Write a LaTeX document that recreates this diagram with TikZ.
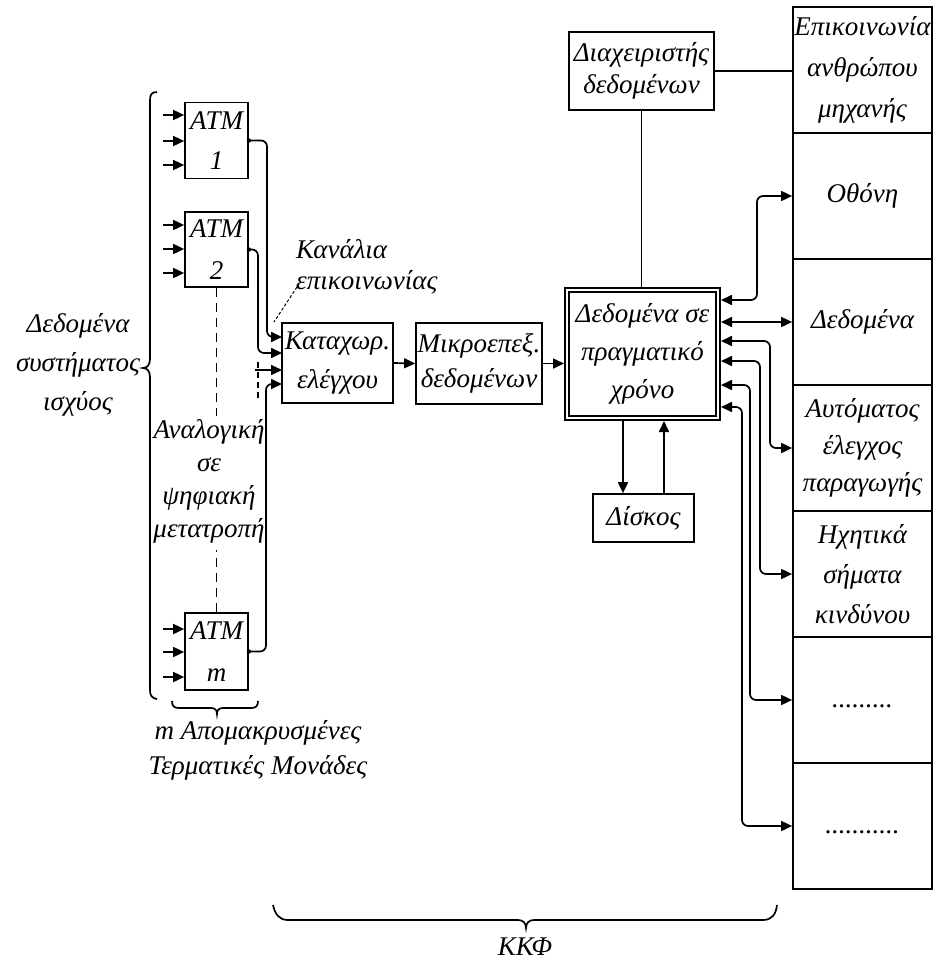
\documentclass[tikz,border=0pt]{standalone}
\usepackage{fontspec}
\setmainfont{Liberation Serif}
\usetikzlibrary{arrows.meta}
\begin{document}
\begin{tikzpicture}[x=1pt,y=-1pt,
  ls/.style={font={\fontsize{27}{#1}\selectfont\itshape}},
  every node/.style={inner sep=0pt, ls=38},
  box/.style={draw, line width=1.7pt, align=center},
  ln/.style={line width=1.7pt},
  arr/.style={ln, -{Triangle[length=11pt,width=10pt]}},
  barr/.style={ln, {Triangle[length=11pt,width=10pt]}-{Triangle[length=11pt,width=10pt]}},
  rc/.style={rounded corners=6pt}]
\useasboundingbox (0,0) rectangle (936,962);

% ATM boxes
\node[box, ls=40, minimum width=63pt, minimum height=76pt] (atm1) at (216.5,140.5) {ATM\\1};
\node[box, ls=42, minimum width=63pt, minimum height=75pt] (atm2) at (216.5,249.5) {ATM\\2};
\node[box, ls=42, minimum width=63pt, minimum height=77pt] (atmm) at (216.5,651.5) {ATM\\m};

\foreach \y [count=\i] in {115,141,165} {
  \coordinate (ia\i) at (163,\y);
  \draw[arr] (ia\i) -- (ia\i -| atm1.west);
}
\foreach \y [count=\i] in {225,249,273} {
  \coordinate (ib\i) at (163,\y);
  \draw[arr] (ib\i) -- (ib\i -| atm2.west);
}
\foreach \y [count=\i] in {629,652,677} {
  \coordinate (ic\i) at (163,\y);
  \draw[arr] (ic\i) -- (ic\i -| atmm.west);
}

% control register
\node[box, ls=39, minimum width=111pt, minimum height=80pt] (kat) at (337.5,363) {Καταχωρ.\\ελέγχου};
\coordinate (k1) at (282,337);
\coordinate (k2) at (282,353);
\coordinate (k3) at (282,370);
\coordinate (k4) at (282,384);
\coordinate (t3) at (255,370);

\fill (atm1.east) circle (2.2pt);
\fill (atm2.east) circle (2.2pt);
\fill (atmm.east) circle (2.2pt);
\draw[arr, rc] (atm1.east) -| (267,337) -- (k1);
\draw[arr, rc] (atm2.east) -| (258,353) -- (k2);
\draw[arr] (t3) -- (k3);
\draw[arr, rc] (atmm.east) -| (266,384) -- (k4);
\draw[ln, dash pattern=on 6pt off 4pt] (258,362) -- (258,400);

% channels label
\node[ls=31, anchor=west, align=left] (kan) at (296,267) {Κανάλια\\επικοινωνίας};
\coordinate (kl1) at (297,287);
\coordinate (kl2) at (274,322);
\draw[line width=1pt, densely dashed] (kl1) -- (kl2);

% microprocessor
\node[box, ls=35, minimum width=126pt, minimum height=81pt] (mik) at (479,363.5) {Μικροεπεξ.\\δεδομένων};
\draw[arr] (kat.east) -- (mik.west);

% real time data (double box)
\node[box, ls=38, double, double distance=2.4pt, outer sep=2.9pt,
      minimum width=151.2pt, minimum height=128.2pt] (rt) at (642.5,354) {Δεδομένα σε\\πραγματικό\\χρόνο};
\draw[arr] (mik.east) -- (mik.east -| rt.west);

% disk
\node[box, minimum width=101pt, minimum height=48pt] (disk) at (643.5,518) {Δίσκος};
\draw[arr] ([xshift=-19.5pt]rt.south) -- ([xshift=-19.5pt]rt.south |- disk.north);
\draw[arr] ([xshift=21.5pt]rt.south |- disk.north) -- ([xshift=21.5pt]rt.south);

% data manager
\node[box, ls=32, minimum width=145pt, minimum height=78pt] (dia) at (641.5,71) {Διαχειριστής\\δεδομένων};
\draw[ln] (dia.south) -- (dia.south |- rt.north);

% right column
\node[box, ls=41, minimum width=139pt, minimum height=126pt] (c1) at (862.5,70) {Επικοινωνία\\ανθρώπου\\μηχανής};
\node[box, minimum width=139pt, minimum height=126pt] (c2) at (862.5,196) {Οθόνη};
\node[box, minimum width=139pt, minimum height=126pt] (c3) at (862.5,322) {Δεδομένα};
\node[box, ls=37, minimum width=139pt, minimum height=126pt] (c4) at (862.5,448) {Αυτόματος\\έλεγχος\\παραγωγής};
\node[box, ls=40, minimum width=139pt, minimum height=126pt] (c5) at (862.5,574) {Ηχητικά\\σήματα\\κινδύνου};
\node[box, minimum width=139pt, minimum height=126pt] (c6) at (862.5,700) {\strut.........};
\node[box, minimum width=139pt, minimum height=126pt] (c7) at (862.5,826) {\strut...........};

\draw[ln] (dia.east) -- (dia.east -| c1.west);

\path (rt.east) ++(0,-54) coordinate (r1);
\path (rt.east |- c3.west) coordinate (r2);
\path (rt.east) ++(0,-13) coordinate (r3);
\path (rt.east) ++(0,7) coordinate (r4);
\path (rt.east) ++(0,31) coordinate (r5);
\path (rt.east) ++(0,53) coordinate (r6);
\draw[barr, rc] (r1) -- ++(36,0) |- (c2.west);
\draw[barr] (r2) -- (c3.west);
\draw[barr, rc] (r3) -- ++(49,0) |- (c4.west);
\draw[barr, rc] (r4) -- ++(39,0) |- (c5.west);
\draw[barr, rc] (r5) -- ++(29,0) |- (c6.west);
\draw[barr, rc] (r6) -- ++(21,0) |- (c7.west);

% big left brace
\draw[ln] (157,92) .. controls (151,92) and (150,95) .. (150,101) -- (150,359)
  .. controls (150,365) and (147,368) .. (143,368)
  .. controls (147,368) and (150,371) .. (150,377) -- (150,690)
  .. controls (150,696) and (152,698) .. (157,699);
\node[ls=39, align=center] (dss) at (78,365) {Δεδομένα\\συστήματος\\ισχύος};

% A/D conversion label and dashed line
\node[ls=33, align=center] (adc) at (209,481) {Αναλογική\\σε\\ψηφιακή\\μετατροπή};
\draw[ln, dash pattern=on 9pt off 6pt] (atm2.south) -- ++(0,128);
\draw[ln, dash pattern=on 9pt off 6pt] (atmm.north) -- ++(0,-62);

% small brace under ATM m
\draw[ln] (172,701) .. controls (172,706) and (174,708) .. (179,708) -- (211,708)
  .. controls (215,708) and (217,710) .. (217,714)
  .. controls (217,710) and (219,708) .. (223,708) -- (251,708)
  .. controls (256,708) and (258,706) .. (258,701);
\node[ls=35, align=center] (rtu) at (258,750) {m Απομακρυσμένες\\Τερματικές Μονάδες};

% KKF brace
\draw[ln] (273,905) .. controls (275,914) and (279,920) .. (288,920) -- (518,920)
  .. controls (523,920) and (526,923) .. (526,928)
  .. controls (526,923) and (529,920) .. (534,920) -- (763,920)
  .. controls (772,920) and (776,914) .. (777,905);
\node (kkf) at (525,947) {ΚΚΦ};
\end{tikzpicture}
\end{document}
